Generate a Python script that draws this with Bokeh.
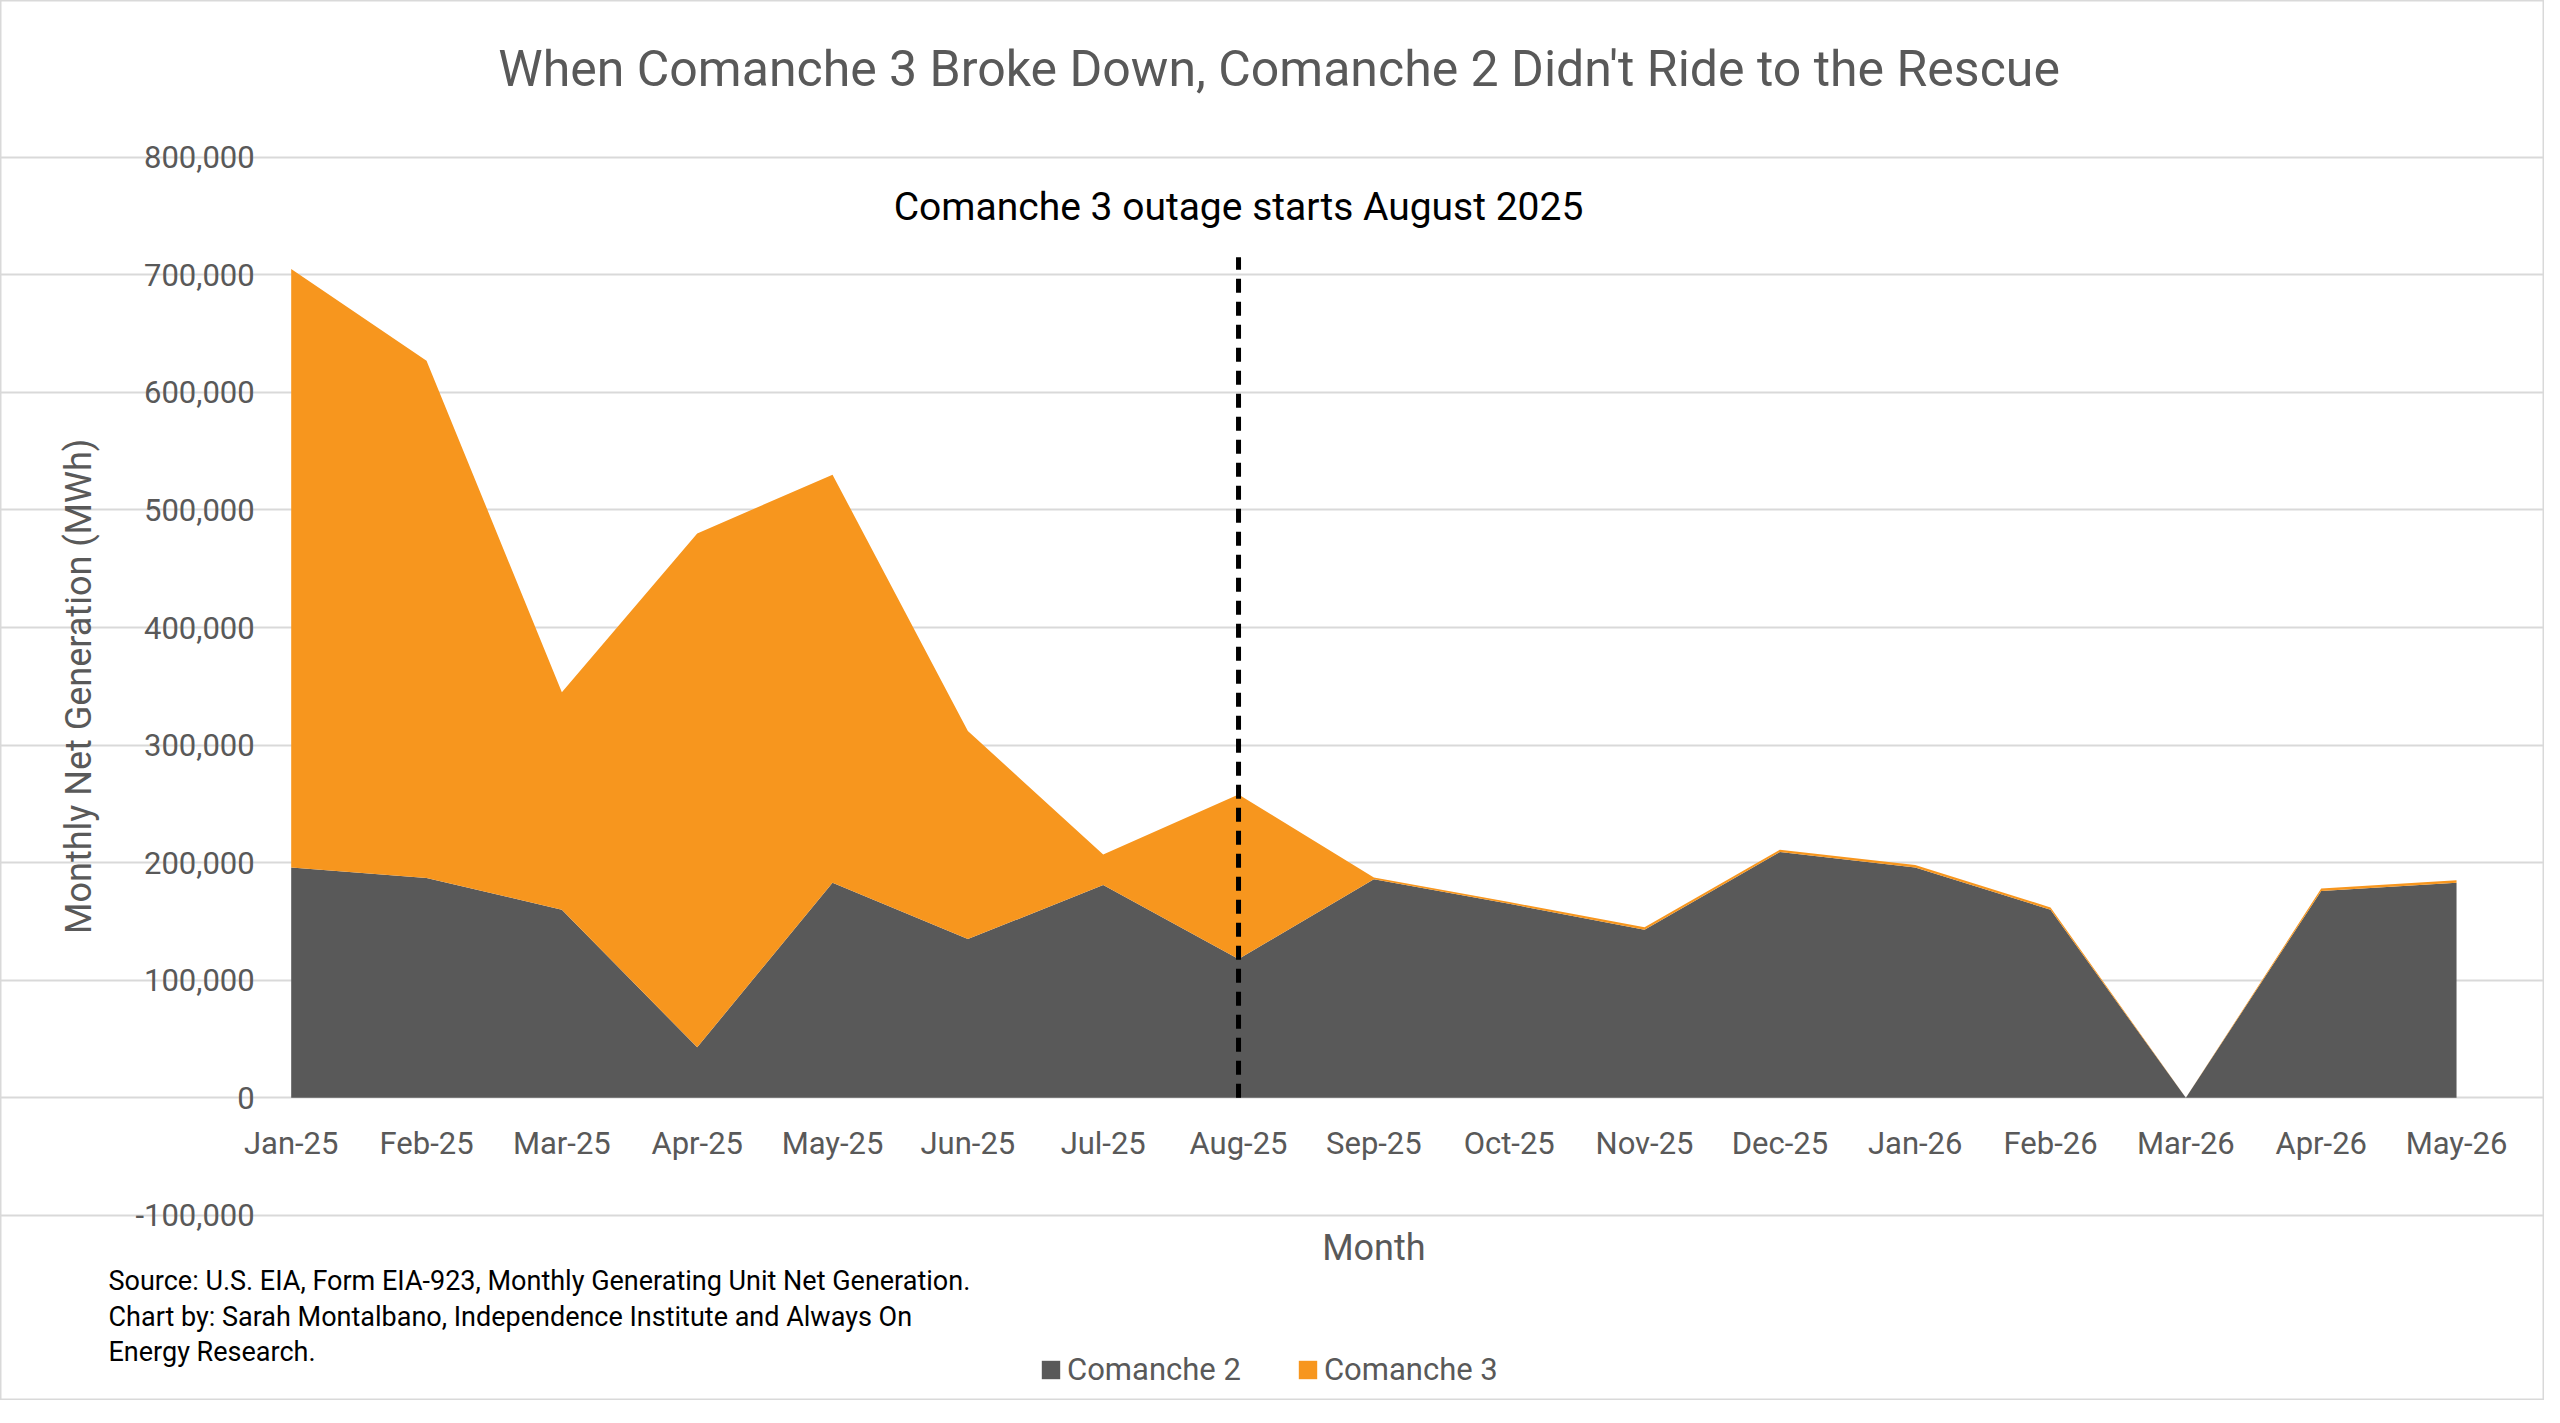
import math
from bokeh.plotting import figure
from bokeh.models import Label, Legend, LegendItem, FixedTicker, Range1d
from bokeh.core.properties import value
from bokeh.embed import file_html
from bokeh.resources import INLINE

months = ["Jan-25","Feb-25","Mar-25","Apr-25","May-25","Jun-25","Jul-25","Aug-25","Sep-25",
          "Oct-25","Nov-25","Dec-25","Jan-26","Feb-26","Mar-26","Apr-26","May-26"]
comanche2 = [196000,187000,160000,43000,183000,135000,181000,118000,186000,
             165000,143000,209000,196000,160000,0,176000,183000]
comanche3 = [509000,440000,185000,437000,347000,177000,26000,140000,1500,
             1500,2000,2000,2000,2000,0,2000,2000]
y_ticks = [-100000,0,100000,200000,300000,400000,500000,600000,700000,800000]
outage_index = 7
outage_top = 715000

FONT = "Roboto"
GRAY = "#595959"
x = list(range(len(months)))
top = [a + b for a, b in zip(comanche2, comanche3)]

p = figure(width=2544, height=1400, output_backend="svg", toolbar_location=None,
           x_range=Range1d(-2.148, 16.65), y_range=Range1d(-257400, 933300),
           min_border=0)
p.outline_line_color = "#d9d9d9"
p.outline_line_width = 2
p.axis.visible = False
p.xgrid.visible = False
p.ygrid.ticker = FixedTicker(ticks=y_ticks)
p.ygrid.bounds = (0, len(months) - 1)
p.ygrid.grid_line_color = "#d9d9d9"
p.ygrid.grid_line_width = 2

r2 = p.varea(x=x, y1=[0]*len(x), y2=comanche2, fill_color=GRAY)
r3 = p.varea(x=x, y1=comanche2, y2=top, fill_color="#F7961E")
p.segment(x0=[outage_index], y0=[0], x1=[outage_index], y1=[outage_top],
          line_color="black", line_width=5, line_dash="14 9")

p.text(x=x, y=[-39000]*len(x), text=months, text_font=value(FONT), text_font_size="31px",
       text_color=GRAY, text_align="center", text_baseline="middle")
p.text(x=[-0.27]*len(y_ticks), y=y_ticks, text=[f"{t:,}" for t in y_ticks],
       text_font=value(FONT), text_font_size="31px", text_color=GRAY,
       text_align="right", text_baseline="middle")

def lab(xv, yv, t, size, color=GRAY, align="center", angle=0):
    p.add_layout(Label(x=xv, y=yv, text=t, text_font=FONT, text_font_size=size,
                       text_color=color, text_align=align, text_baseline="middle", angle=angle))

lab(7.3, 875000, "When Comanche 3 Broke Down, Comanche 2 Didn't Ride to the Rescue", "50px")
lab(7.0, 758000, "Comanche 3 outage starts August 2025", "39px", color="black")
lab(-1.57, 350000, "Monthly Net Generation (MWh)", "36px", angle=math.pi/2)
lab(8.0, -128000, "Month", "36px")
lab(-1.35, -155600, "Source: U.S. EIA, Form EIA-923, Monthly Generating Unit Net Generation.", "27px", "black", "left")
lab(-1.35, -186000, "Chart by: Sarah Montalbano, Independence Institute and Always On", "27px", "black", "left")
lab(-1.35, -216500, "Energy Research.", "27px", "black", "left")

legend = Legend(items=[LegendItem(label="Comanche 2", renderers=[r2]),
                       LegendItem(label="Comanche 3", renderers=[r3])],
                orientation="horizontal", location=(1039, 12),
                label_text_font=FONT, label_text_font_size="31px", label_text_color=GRAY,
                glyph_width=23, glyph_height=23, spacing=55, background_fill_alpha=0,
                border_line_color=None)
p.add_layout(legend)

open("out.html", "w").write(file_html(p, INLINE))
